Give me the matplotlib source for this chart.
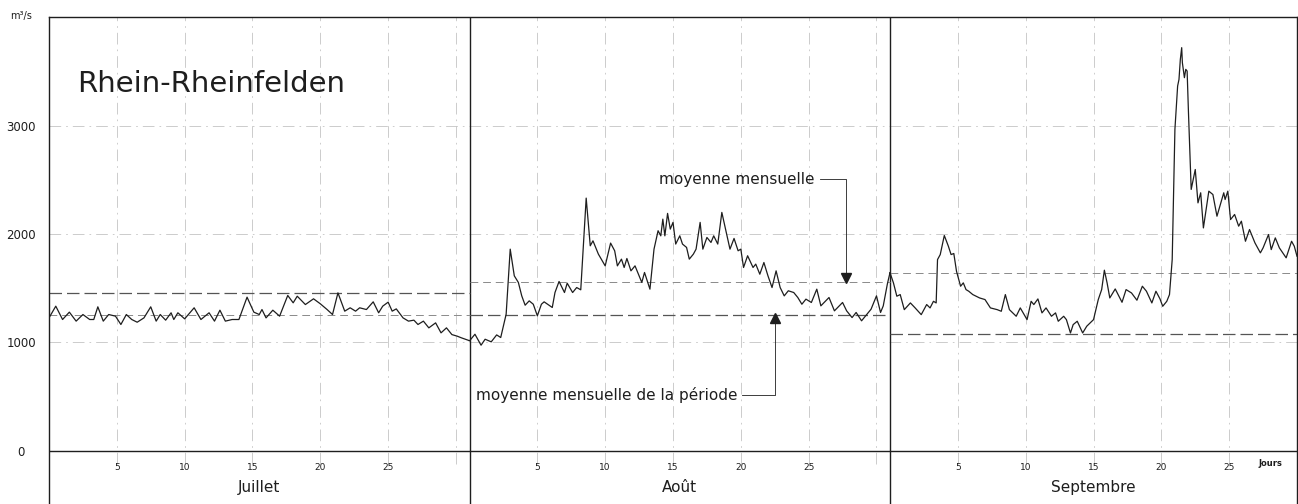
import numpy as np
import matplotlib.pyplot as plt

# discharge of the Rhine at Rheinfelden, m3/s (day within month, value)
july_day = [0.0, 0.5, 1.0, 1.5, 2.0, 2.5, 3.0, 3.3, 3.6, 4.0, 4.4, 4.9, 5.3, 5.7, 6.1, 6.5,
            7.0, 7.5, 7.9, 8.2, 8.6, 9.0, 9.2, 9.5, 10.0, 10.7, 11.2, 11.8, 12.2, 12.6, 13.0,
            13.5, 14.0, 14.6, 15.1, 15.5, 15.7, 16.0, 16.5, 17.0, 17.6, 18.0, 18.3, 18.9, 19.5,
            20.0, 20.5, 20.9, 21.3, 21.8, 22.2, 22.6, 22.9, 23.4, 23.9, 24.3, 24.6, 25.0, 25.3,
            25.6, 26.1, 26.5, 26.9, 27.2, 27.6, 28.0, 28.5, 28.9, 29.3, 29.7, 30.1, 30.4, 30.9]
july_q = [1227, 1335, 1212, 1280, 1197, 1258, 1212, 1212, 1329, 1197, 1258, 1243, 1166, 1258,
          1212, 1187, 1227, 1329, 1197, 1258, 1206, 1274, 1212, 1274, 1218, 1320, 1212, 1274,
          1197, 1298, 1197, 1212, 1212, 1418, 1280, 1258, 1304, 1227, 1298, 1243, 1434, 1366,
          1427, 1350, 1403, 1357, 1304, 1258, 1458, 1289, 1320, 1289, 1320, 1304, 1375, 1274,
          1335, 1372, 1289, 1310, 1227, 1197, 1206, 1166, 1197, 1135, 1181, 1089, 1135, 1073,
          1058, 1043, 1021]

aug_day = [0.0, 0.4, 0.85, 1.15, 1.6, 2.0, 2.3, 2.7, 3.0, 3.3, 3.6, 3.85, 4.1, 4.4, 4.7, 5.0,
           5.3, 5.5, 6.1, 6.3, 6.6, 7.0, 7.2, 7.6, 7.9, 8.2, 8.6, 8.9, 9.1, 9.5, 10.0, 10.4,
           10.7, 10.9, 11.2, 11.4, 11.6, 11.9, 12.2, 12.4, 12.7, 12.9, 13.3, 13.6, 13.9, 14.1,
           14.25, 14.4, 14.6, 14.8, 15.0, 15.2, 15.5, 15.7, 16.0, 16.2, 16.5, 16.7, 17.0, 17.2,
           17.5, 17.8, 18.0, 18.3, 18.6, 18.9, 19.2, 19.5, 19.8, 20.0, 20.2, 20.5, 20.9, 21.1,
           21.4, 21.7, 22.0, 22.3, 22.6, 22.9, 23.2, 23.5, 23.9, 24.2, 24.5, 24.8, 25.2, 25.6,
           25.9, 26.5, 26.9, 27.5, 27.8, 28.2, 28.5, 28.9, 29.3, 29.6, 30.0, 30.3, 30.5, 30.8, 31.0]
aug_q = [1015, 1076, 975, 1030, 1006, 1070, 1046, 1261, 1861, 1615, 1554, 1430, 1344, 1384,
         1353, 1246, 1353, 1375, 1323, 1461, 1563, 1461, 1547, 1461, 1507, 1486, 2332, 1892,
         1938, 1815, 1707, 1917, 1846, 1707, 1769, 1692, 1775, 1661, 1707, 1646, 1554, 1646,
         1492, 1861, 2031, 1984, 2138, 1984, 2191, 2046, 2108, 1908, 1984, 1908, 1877, 1769,
         1815, 1861, 2108, 1861, 1969, 1923, 1984, 1908, 2200, 2031, 1861, 1960, 1846, 1861,
         1692, 1800, 1692, 1723, 1630, 1738, 1615, 1507, 1661, 1507, 1430, 1477, 1461, 1415,
         1353, 1400, 1369, 1492, 1338, 1415, 1292, 1369, 1292, 1230, 1277, 1200, 1261, 1307,
         1430, 1277, 1338, 1538, 1646]

sep_day = [0.0, 0.25, 0.5, 0.75, 1.05, 1.5, 1.85, 2.3, 2.7, 2.95, 3.2, 3.4, 3.5, 3.7, 4.0, 4.3,
           4.5, 4.7, 4.9, 5.2, 5.4, 5.6, 5.8, 6.1, 6.6, 7.0, 7.4, 7.9, 8.2, 8.5, 8.8, 9.3, 9.6,
           10.1, 10.4, 10.6, 10.9, 11.2, 11.5, 11.9, 12.2, 12.4, 12.8, 13.0, 13.3, 13.5, 13.8,
           14.2, 14.5, 15.0, 15.35, 15.6, 15.8, 16.0, 16.2, 16.6, 17.1, 17.4, 17.8, 18.2, 18.6,
           18.9, 19.3, 19.6, 19.9, 20.1, 20.4, 20.6, 20.8, 21.0, 21.2, 21.3, 21.4, 21.5, 21.55,
           21.7, 21.8, 21.9, 22.0, 22.2, 22.5, 22.7, 22.9, 23.1, 23.5, 23.8, 24.1, 24.6, 24.7,
           24.9, 25.1, 25.4, 25.7, 25.9, 26.2, 26.5, 26.9, 27.3, 27.5, 27.9, 28.1, 28.4, 28.7,
           29.2, 29.6, 29.8, 30.0]
sep_q = [1642, 1550, 1427, 1442, 1303, 1365, 1319, 1257, 1350, 1319, 1380, 1365, 1765, 1811,
         1987, 1888, 1811, 1821, 1657, 1519, 1550, 1488, 1473, 1442, 1411, 1396, 1319, 1303,
         1288, 1442, 1303, 1242, 1319, 1211, 1380, 1350, 1402, 1273, 1319, 1242, 1273, 1196,
         1242, 1211, 1088, 1165, 1196, 1088, 1150, 1211, 1396, 1488, 1667, 1550, 1411, 1494,
         1371, 1488, 1457, 1390, 1519, 1473, 1365, 1473, 1402, 1334, 1380, 1442, 1765, 2966,
         3366, 3427, 3612, 3720, 3581, 3443, 3520, 3504, 3119, 2412, 2596, 2288, 2381, 2057,
         2396, 2365, 2165, 2381, 2319, 2396, 2134, 2181, 2073, 2119, 1934, 2042, 1919, 1827,
         1873, 1996, 1857, 1965, 1873, 1781, 1934, 1888, 1796]

month_names = ['Juillet', 'Août', 'Septembre']
month_len = [31, 31, 30]
month_mean = [1250, 1555, 1642]     # moyenne mensuelle
period_mean = [1460, 1255, 1080]    # moyenne mensuelle de la période
day_ticks = [5, 10, 15, 20, 25]
y_ticks = [0, 1000, 2000, 3000]

INK = '#1e1e1e'
GRID = '#c4c4c4'
W, H = 1298, 504

fig = plt.figure(figsize=(W / 100, H / 100), dpi=100)
ax = fig.add_axes([49 / W, 0, 1248 / W, 486.7 / H])
ax.set_xlim(0, sum(month_len))
ax.set_ylim(-490, 4000)

starts = np.cumsum([0] + month_len[:-1])

# grid
for s, n in zip(starts, month_len):
    for d in range(5, n + 1, 5):
        if s + d < sum(month_len):
            ax.plot([s + d, s + d], [-125, 4000], color=GRID, lw=0.6, ls=(0, (14, 6, 2, 6)), zorder=1)
    for d in day_ticks:
        ax.text(s + d, -150, str(d), ha='center', va='center', fontsize=6.5, color=INK)
for v in y_ticks[1:]:
    ax.axhline(v, color=GRID, lw=0.6, ls=(0, (14, 6, 2, 6)), zorder=1)
ax.axhline(0, color=INK, lw=1.0, zorder=2)
for s in starts[1:]:
    ax.axvline(s, color=INK, lw=1.0, zorder=2)

# mean lines
for s, n, m, p in zip(starts, month_len, month_mean, period_mean):
    ax.plot([s, s + n], [m, m], color='#8a8a8a', lw=0.7, ls=(0, (8, 5)), zorder=2)
    ax.plot([s, s + n], [p, p], color='#555555', lw=0.9, ls=(0, (10, 4)), zorder=2)

# discharge curve
days = np.concatenate([np.array(july_day) + starts[0],
                       np.array(aug_day) + starts[1],
                       np.array(sep_day) + starts[2]])
flow = np.concatenate([july_q, aug_q, sep_q])
ax.plot(days, flow, color=INK, lw=0.9, zorder=3)

# month names
for s, n, name in zip(starts, month_len, month_names):
    ax.text(s + n / 2, -340, name, ha='center', va='center', fontsize=11, color=INK)
ax.text(90.05, -118, 'Jours', ha='center', va='center', fontsize=6, fontweight='bold', color=INK)

# y labels
ax.set_yticks(y_ticks)
ax.set_yticklabels([str(v) for v in y_ticks], ha='center', fontsize=8.5, color=INK)
ax.tick_params(axis='y', length=0, pad=20)
ax.set_xticks([])
ax.text(-2.05, 4010, 'm³/s', ha='center', va='center', fontsize=7, color=INK)

for side in ['left', 'top', 'right']:
    ax.spines[side].set_color(INK)
    ax.spines[side].set_linewidth(1.0)
ax.spines['bottom'].set_visible(False)

ax.text(2.1, 3308, 'Rhein-Rheinfelden', ha='left', va='baseline', fontsize=21, color=INK)

# annotations
ax.text(56.45, 2505, 'moyenne mensuelle', ha='right', va='center', fontsize=11, color=INK)
ax.plot([56.8, 58.73, 58.73], [2505, 2505, 1630], color=INK, lw=0.6)
ax.plot([58.73], [1597], marker='v', color=INK, markersize=7, zorder=4)

ax.text(50.77, 520, 'moyenne mensuelle de la période', ha='right', va='center', fontsize=11, color=INK)
ax.plot([51.07, 53.5, 53.5], [520, 520, 1194], color=INK, lw=0.6)
ax.plot([53.5], [1224], marker='^', color=INK, markersize=7, zorder=4)

fig.savefig('out.png', dpi=100)
